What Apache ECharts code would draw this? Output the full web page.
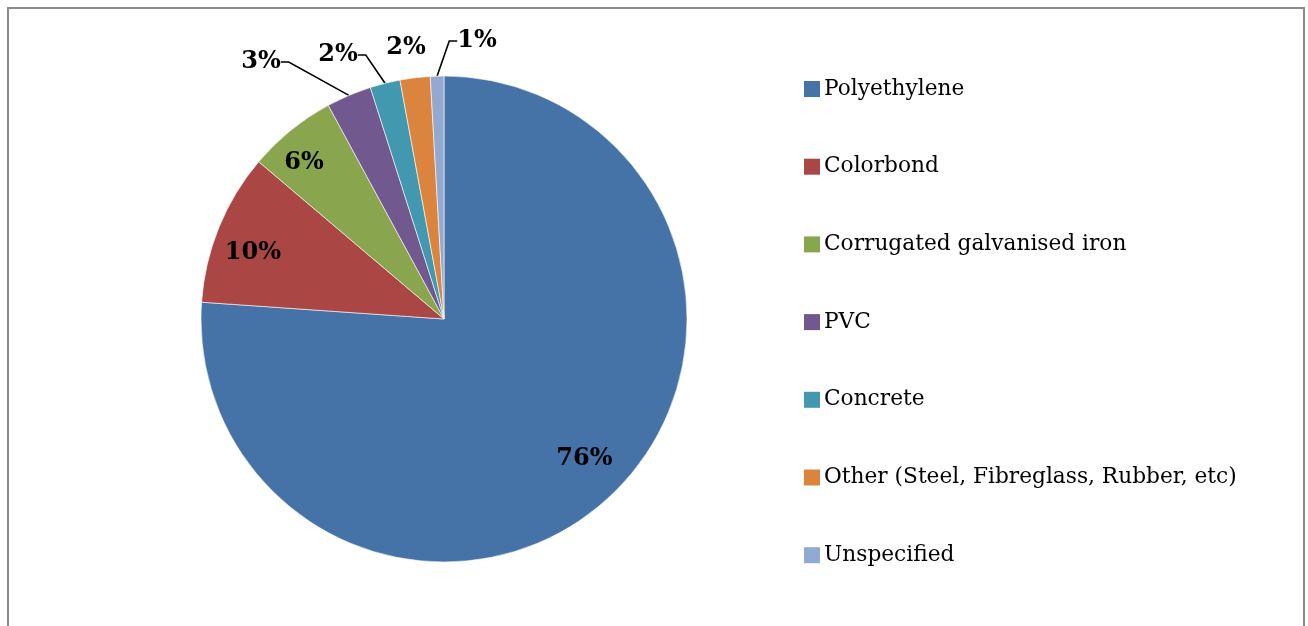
<!DOCTYPE html>
<html>
<head>
<meta charset="utf-8">
<title>Tank materials</title>
<script src="https://cdn.jsdelivr.net/npm/echarts@6/dist/echarts.min.js"></script>
<style>
  html, body { margin: 0; padding: 0; background: #fff; }
  #chart { width: 1308px; height: 626px; }
</style>
</head>
<body>
<div id="chart"></div>
<script>
// materials and their share (%)
var materials = ['Polyethylene', 'Colorbond', 'Corrugated galvanised iron', 'PVC', 'Concrete',
    'Other (Steel, Fibreglass, Rubber, etc)', 'Unspecified'];
var shares = [76.1, 10.1, 5.9, 3.0, 2.0, 2.0, 0.9];
var colors = ['#4572A7', '#AA4643', '#89A54E', '#71588F', '#4198AF', '#DB843D', '#93A9CF'];

var serif = '"DejaVu Serif", "Liberation Serif", serif';
var cx = 444, cy = 319, R = 243;

// inside labels sit out toward the rim, small ones are lifted above the pie
var insideFrac = [0.81, 0.835, 0.868];
var insideTurn = -2.5 * Math.PI / 180;
var outsideSpot = { 3: [261, 62], 4: [338, 55], 5: [406, 48], 6: [477, 41] };

var total = shares.reduce(function (a, b) { return a + b; }, 0);
function midAngle(i) {
    var before = 0;
    for (var k = 0; k < i; k++) before += shares[k];
    return (before + shares[i] / 2) / total * Math.PI * 2;
}

var data = materials.map(function (name, i) {
    var item = { name: name, value: shares[i], itemStyle: { color: colors[i] } };
    if (i >= 3) {
        item.label = { position: 'outside' };
        item.labelLine = { show: i !== 5 };
    }
    return item;
});

var chart = echarts.init(document.getElementById('chart'));
chart.setOption({
    animation: false,
    graphic: [{
        type: 'rect',
        shape: { x: 8, y: 8, width: 1296, height: 700 },
        style: { fill: 'none', stroke: '#8a8a8a', lineWidth: 2 },
        silent: true
    }],
    legend: {
        orient: 'vertical',
        left: 799,
        top: 72,
        itemWidth: 16,
        itemHeight: 16,
        itemGap: 53.7,
        icon: 'rect',
        itemStyle: { borderWidth: 0 },
        textStyle: { fontFamily: serif, fontSize: 21.7, color: '#000', lineHeight: 24, padding: [0, 0, 0, -1] },
        data: materials
    },
    series: [{
        type: 'pie',
        center: [cx, cy],
        radius: R,
        startAngle: 90,
        clockwise: true,
        percentPrecision: 0,
        itemStyle: { borderColor: '#fff', borderWidth: 0.6 },
        label: {
            position: 'inside',
            formatter: '{d}%',
            fontFamily: serif,
            fontWeight: 'bold',
            fontSize: 24,
            color: '#000'
        },
        labelLine: {
            show: false,
            length: 10,
            length2: 8,
            lineStyle: { color: '#000', width: 1.6 }
        },
        labelLayout: function (p) {
            var i = p.dataIndex;
            if (i < 3) {
                var a = midAngle(i) + insideTurn, r = R * insideFrac[i];
                return { x: cx + r * Math.sin(a), y: cy - r * Math.cos(a) + 2, align: 'center', verticalAlign: 'middle' };
            }
            var s = outsideSpot[i];
            return { x: s[0], y: s[1], align: 'center', verticalAlign: 'middle' };
        },
        data: data
    }]
});
</script>
</body>
</html>
